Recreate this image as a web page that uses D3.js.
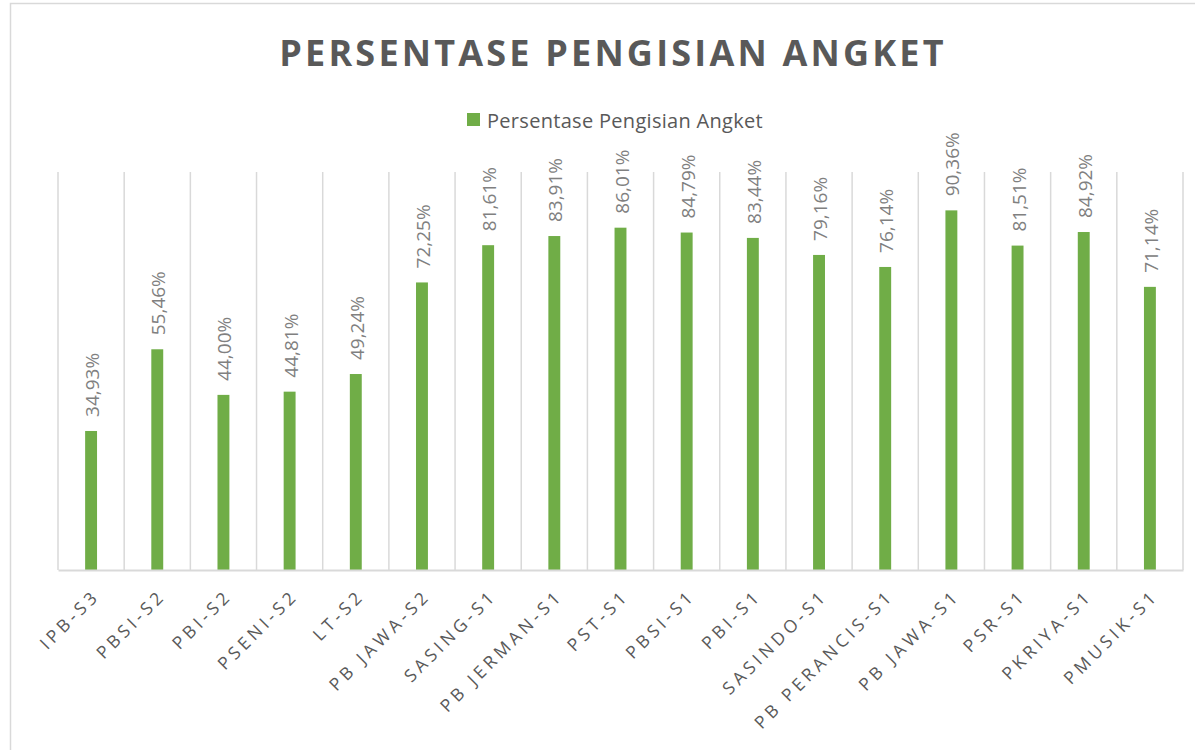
<!DOCTYPE html>
<html>
<head>
<meta charset="utf-8">
<script src="https://cdn.jsdelivr.net/npm/d3@7"></script>
<style>
  body { margin: 0; background: #ffffff; }
  svg { display: block; }
</style>
</head>
<body>
<svg id="chart" width="1195" height="750"></svg>
<script>
const categories = ["IPB-S3","PBSI-S2","PBI-S2","PSENI-S2","LT-S2","PB JAWA-S2","SASING-S1","PB JERMAN-S1","PST-S1","PBSI-S1","PBI-S1","SASINDO-S1","PB PERANCIS-S1","PB JAWA-S1","PSR-S1","PKRIYA-S1","PMUSIK-S1"];
const values = [34.93,55.46,44.00,44.81,49.24,72.25,81.61,83.91,86.01,84.79,83.44,79.16,76.14,90.36,81.51,84.92,71.14];
const seriesName = "Persentase Pengisian Angket";
const title = "PERSENTASE PENGISIAN ANGKET";

const svg = d3.select("#chart");

// outer chart border (cropped at right and bottom)
svg.append("rect").attr("x", 10.5).attr("y", 3.5).attr("width", 1300).attr("height", 900)
  .attr("fill", "#ffffff").attr("stroke", "#d9d9d9").attr("stroke-width", 1.5);

const x = d3.scaleBand().domain(categories).range([58, 1183]);
const y = d3.scaleLinear().domain([0, 100]).range([570, 172]);

// title
svg.append("text").attr("x", 613).attr("y", 66).attr("text-anchor", "middle")
  .attr("font-family", "'Open Sans', sans-serif").attr("font-weight", 700)
  .attr("font-size", 36).attr("letter-spacing", 3.2).attr("fill", "#595959")
  .text(title);

// legend
const lg = svg.append("g");
lg.append("rect").attr("x", 467).attr("y", 113).attr("width", 13).attr("height", 13).attr("fill", "#70ad47");
lg.append("text").attr("x", 487).attr("y", 120).attr("dominant-baseline", "central")
  .attr("font-family", "'Open Sans', sans-serif").attr("font-size", 20).attr("letter-spacing", 0.3)
  .attr("fill", "#595959")
  .text(seriesName);

// vertical gridlines at category boundaries
const bounds = categories.map(c => x(c)).concat([x.range()[1]]);
svg.append("g").selectAll("line").data(bounds).join("line")
  .attr("x1", d => d).attr("x2", d => d)
  .attr("y1", y(100)).attr("y2", y(0))
  .attr("stroke", "#d9d9d9").attr("stroke-width", 1.5);

// bars
const bw = x.bandwidth() * 0.18;
svg.append("g").selectAll("rect").data(values).join("rect")
  .attr("x", (d, i) => x(categories[i]) + x.bandwidth() / 2 - bw / 2)
  .attr("y", d => y(d))
  .attr("width", bw)
  .attr("height", d => y(0) - y(d))
  .attr("fill", "#70ad47");

// baseline axis
const axis = d3.axisBottom(x).tickSize(0).tickPadding(0);
const ag = svg.append("g").attr("transform", `translate(0,${y(0)})`).call(axis);
ag.select(".domain").attr("stroke", "#d9d9d9").attr("stroke-width", 2);
ag.selectAll("text")
  .attr("font-family", "'Open Sans', sans-serif").attr("font-size", 17.5)
  .attr("letter-spacing", 4).attr("fill", "#595959")
  .attr("text-anchor", "end").attr("dy", null).attr("y", 0)
  .attr("dominant-baseline", "hanging")
  .attr("transform", "translate(-1,16) rotate(-45)");

// data labels
const fmt = v => v.toFixed(2).replace(".", ",") + "%";
svg.append("g").selectAll("text").data(values).join("text")
  .attr("transform", (d, i) => `translate(${x(categories[i]) + x.bandwidth() / 2 + 1},${y(d) - 14}) rotate(-90)`)
  .attr("text-anchor", "start").attr("dominant-baseline", "central")
  .attr("font-family", "'Open Sans', sans-serif").attr("font-size", 19)
  .attr("fill", "#808080")
  .text(d => fmt(d));
</script>
</body>
</html>
